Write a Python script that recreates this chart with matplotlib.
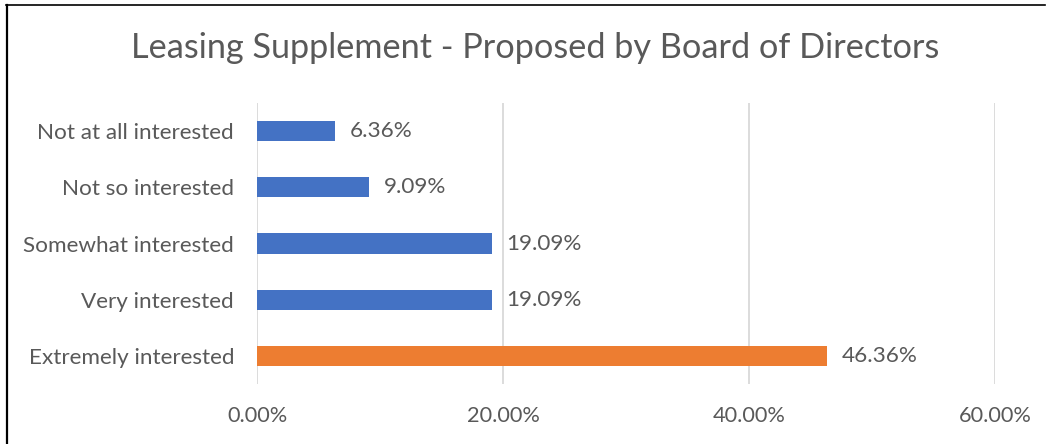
import matplotlib.pyplot as plt
from matplotlib.lines import Line2D

categories = ["Extremely interested", "Very interested", "Somewhat interested",
              "Not so interested", "Not at all interested"]
values = [46.36, 19.09, 19.09, 9.09, 6.36]
colors = ["#ED7D31", "#4472C4", "#4472C4", "#4472C4", "#4472C4"]
xticks = [0, 20, 40, 60]

plt.rcParams['font.family'] = ['Lato', 'DejaVu Sans']
txt = '#595959'

W, H = 1050, 444
fig = plt.figure(figsize=(W / 100, H / 100), dpi=100)
ax = fig.add_axes([257 / W, 1 - 384 / H, (995 - 257) / W, (384 - 103) / H])

ypos = list(range(len(categories)))
ax.barh(ypos, values, height=0.36, color=colors, zorder=3)
for y, v in zip(ypos, values):
    ax.text(v + 1.2, y, f"{v:.2f}%", va='center', ha='left', fontsize=16.2, color=txt)

ax.set_xlim(0, 60)
ax.set_ylim(-0.5, 4.5)
ax.set_xticks(xticks)
ax.set_xticklabels([f"{t:.2f}%" for t in xticks], fontsize=15.7, color=txt)
ax.set_yticks(ypos)
ax.set_yticklabels(categories, fontsize=16.2, color=txt)
ax.tick_params(length=0, pad=16.5, axis='y')
ax.tick_params(length=0, pad=16, axis='x')
ax.grid(axis='x', color='#D9D9D9', linewidth=1.3, zorder=0)
for s in ax.spines.values():
    s.set_visible(False)

fig.text(535 / W, 1 - 48 / H, "Leasing Supplement - Proposed by Board of Directors",
         ha='center', va='center', fontsize=24.7, color=txt)

# frame of the screenshot (left and top edges)
fig.add_artist(Line2D([6.5 / W, 6.5 / W], [0, 1 - 5 / H], color='black', linewidth=1.6))
fig.add_artist(Line2D([6 / W, 1045 / W], [1 - 5 / H, 1 - 5 / H], color='black', linewidth=1.2))

fig.savefig("out.png", dpi=100)
